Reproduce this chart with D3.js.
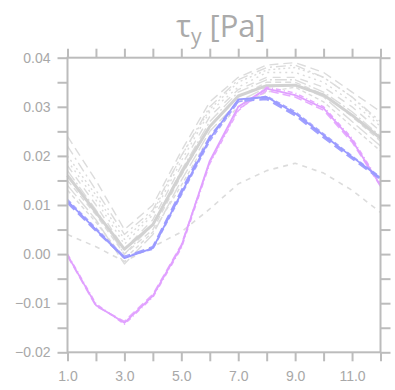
<!DOCTYPE html>
<html><head><meta charset="utf-8">
<script src="https://cdn.jsdelivr.net/npm/d3@7"></script>
<style>body{margin:0;background:#fff}svg{display:block}</style>
</head><body>
<script>
const months = [1,2,3,4,5,6,7,8,9,10,11,12];
const yMajorTicks = [-0.02,-0.01,0.00,0.01,0.02,0.03,0.04];
const yMinorTicks = [-0.015,-0.005,0.005,0.015,0.025,0.035];
const xLabelTicks = [1,3,5,7,9,11];

// grey ensemble (dashed)
const grey1 = [0.024,0.015,0.005,0.010,0.021,0.031,0.036,0.0385,0.039,0.037,0.033,0.029];
const grey2 = [0.022,0.013,0.004,0.009,0.020,0.030,0.0355,0.038,0.0385,0.036,0.032,0.027];
const grey3 = [0.019,0.011,0.002,0.008,0.019,0.029,0.034,0.037,0.037,0.035,0.031,0.026];
const grey4 = [0.018,0.010,0.001,0.007,0.018,0.028,0.0335,0.036,0.036,0.034,0.030,0.025];
const grey5 = [0.017,0.009,0.000,0.006,0.017,0.027,0.033,0.0355,0.0355,0.033,0.029,0.024];
const grey6 = [0.015,0.008,0.000,0.005,0.016,0.026,0.032,0.035,0.035,0.0325,0.028,0.023];
const grey7 = [0.014,0.007,-0.002,0.004,0.015,0.025,0.031,0.034,0.0345,0.032,0.027,0.022];
const grey8 = [0.013,0.0065,-0.001,0.0045,0.014,0.024,0.030,0.033,0.034,0.031,0.026,0.021];
const grey9 = [0.020,0.012,0.003,0.0085,0.020,0.0295,0.035,0.0375,0.038,0.036,0.032,0.0265];
const greyLow = [0.004,0.0015,-0.0015,0.0015,0.0045,0.0092,0.0143,0.017,0.0185,0.0165,0.013,0.0085];
const greyMean = [0.016,0.0085,0.001,0.006,0.0165,0.026,0.0322,0.0343,0.0344,0.0324,0.0283,0.0236];
// blue
const blue = [0.0108,0.005,-0.0008,0.0012,0.0124,0.0235,0.0315,0.032,0.0287,0.0242,0.0198,0.0155];
const blueB = [0.0105,0.0048,-0.0006,0.0014,0.0128,0.0238,0.0312,0.0316,0.0283,0.0238,0.0195,0.0153];
const blueC = [0.0111,0.0053,-0.0005,0.0010,0.0120,0.0230,0.0310,0.0322,0.0290,0.0245,0.0200,0.0157];
// pink
const pink = [-0.0002,-0.0104,-0.014,-0.0085,0.0016,0.019,0.030,0.0337,0.0324,0.0297,0.0232,0.014];
const pinkB = [-0.0004,-0.0106,-0.0137,-0.0082,0.0019,0.0187,0.0295,0.0333,0.032,0.0293,0.0228,0.0138];
const pinkC = [0.0000,-0.0101,-0.0143,-0.0088,0.0012,0.0184,0.0292,0.0340,0.0328,0.0300,0.0236,0.0143];

const W = 395, H = 390;
const m = {left:67.5, right:W-380.5, top:57.7, bottom:H-352.3};
const svg = d3.select("body").append("svg").attr("width",W).attr("height",H);

const x = d3.scaleLinear().domain([1,12]).range([m.left, W-m.right]);
const y = d3.scaleLinear().domain([-0.02,0.04]).range([H-m.bottom, m.top]);

const axisColor = "#bcbcbc", textColor = "#a8a8a8";
const font = "Liberation Sans, Arial, sans-serif";

// title
const t = svg.append("text").attr("x",221).attr("y",37).attr("text-anchor","middle")
  .attr("font-family","Open Sans, sans-serif").attr("font-size",31).attr("fill","#aaaaaa");
t.append("tspan").text("τ");
t.append("tspan").attr("font-size",21).attr("dy",7).text("y");
t.append("tspan").attr("dy",-7).text(" [Pa]");

const line = d3.line().x((d,i)=>x(months[i])).y(d=>y(d));
const g = svg.append("g");

function draw(data, color, width, dash){
  g.append("path").datum(data).attr("d",line).attr("fill","none")
   .attr("stroke",color).attr("stroke-width",width)
   .attr("stroke-dasharray",dash||null).attr("stroke-linejoin","round");
}
const gc = "#dcdcdc";
draw(greyLow, gc, 1.6, "5,5");
draw(grey1, gc, 1.4, "9,5");
draw(grey2, gc, 1.4, "10,4,2,4");
draw(grey3, gc, 1.4, "2,4");
draw(grey4, gc, 1.4, "8,6");
draw(grey5, gc, 1.4, "12,3,2,3");
draw(grey6, gc, 1.4, "6,4");
draw(grey7, gc, 1.4, "14,4");
draw(grey8, gc, 1.4, "4,3");
draw(grey9, gc, 1.4, "2,3");
draw(greyMean, "#d2d2d2", 3);
draw(pinkB, "#e6aaff", 1.5, "8,4");
draw(pinkC, "#e6aaff", 1.5, "5,3,1,3");
draw(pink, "#e0a0ff", 1.8);
draw(blueB, "#a0a0ff", 2.5, "10,5");
draw(blueC, "#a8a8ff", 1.5, "5,3");
draw(blue, "#9a9aff", 1.8);

// axes
function styleAxis(sel){
  sel.select(".domain").remove();
  sel.selectAll("line").attr("stroke",axisColor).attr("stroke-width",2);
  sel.selectAll("text").attr("fill",textColor).attr("font-family",font).attr("font-size",14);
}
const yAll = yMajorTicks.concat(yMinorTicks);
svg.append("g").attr("transform",`translate(${m.left},0)`)
  .call(d3.axisLeft(y).tickValues(yMajorTicks).tickSize(10).tickPadding(7)
    .tickFormat(d=>d3.format(".2f")(d).replace("-","−")))
  .call(styleAxis);
svg.append("g").attr("transform",`translate(${m.left},0)`)
  .call(d3.axisLeft(y).tickValues(yMinorTicks).tickSize(10).tickFormat(""))
  .call(styleAxis);
svg.append("g").attr("transform",`translate(${W-m.right},0)`)
  .call(d3.axisRight(y).tickValues(yAll).tickSize(10).tickFormat(""))
  .call(styleAxis);
svg.append("g").attr("transform",`translate(0,${H-m.bottom})`)
  .call(d3.axisBottom(x).tickValues(months).tickSize(9).tickPadding(10)
    .tickFormat(d=>xLabelTicks.includes(d)?d3.format(".1f")(d):""))
  .call(styleAxis);
svg.append("g").attr("transform",`translate(0,${m.top})`)
  .call(d3.axisTop(x).tickValues(months).tickSize(9).tickFormat(""))
  .call(styleAxis);

// frame
svg.append("rect").attr("x",m.left).attr("y",m.top)
  .attr("width",W-m.left-m.right).attr("height",H-m.top-m.bottom)
  .attr("fill","none").attr("stroke",axisColor).attr("stroke-width",2);
</script>
</body></html>
